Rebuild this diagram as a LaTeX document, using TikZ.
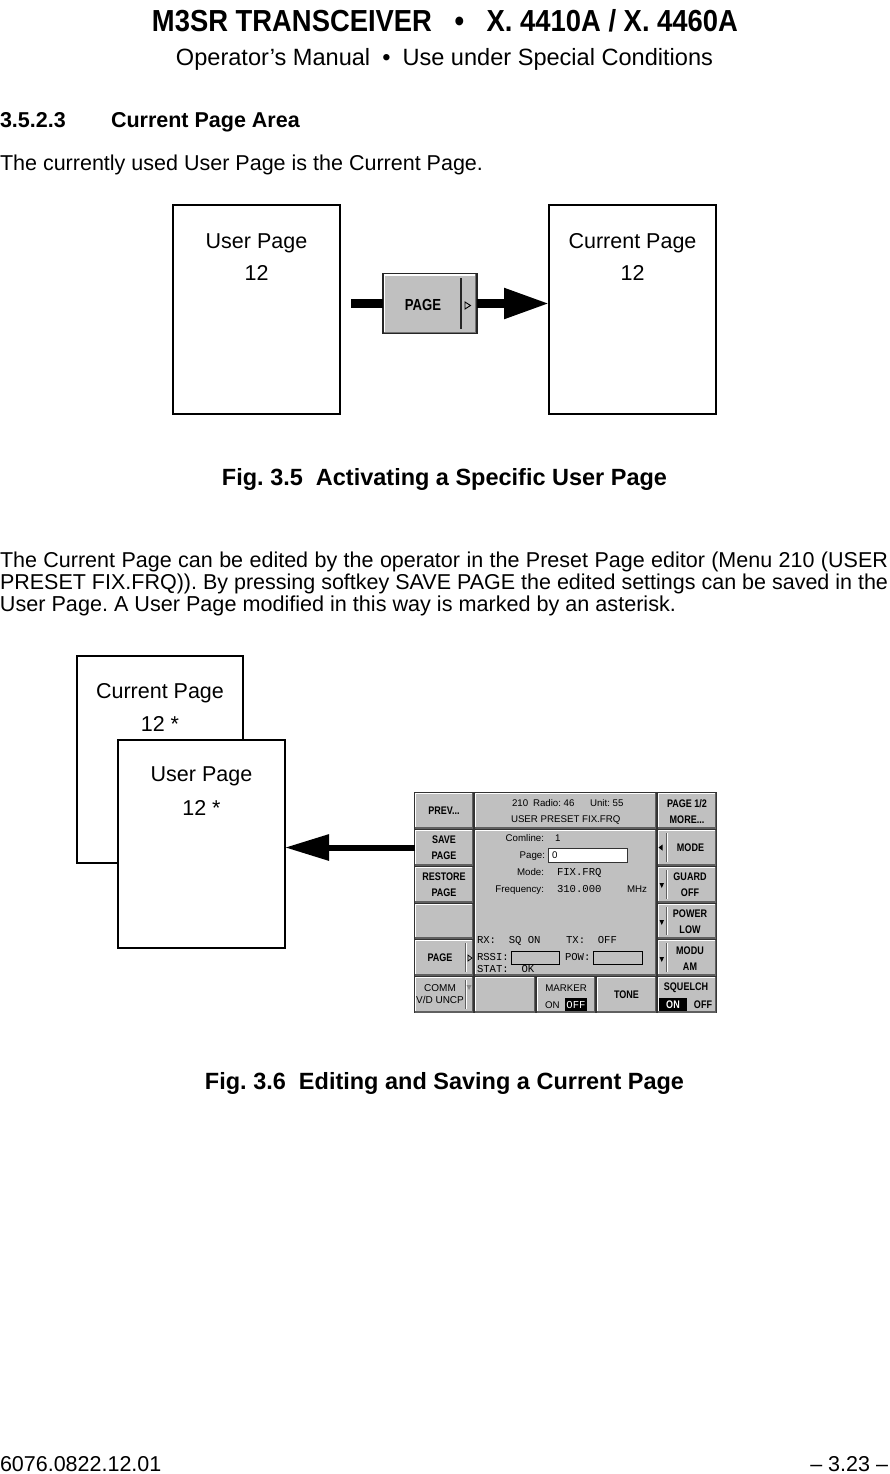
\documentclass[tikz,border=0pt]{standalone}
\usepackage{fontspec}
\setmainfont{Liberation Sans}
\newfontfamily\monof{Liberation Mono}
\newfontfamily\scrf[FakeStretch=0.82]{Liberation Sans}
\newfontfamily\titlef[FakeStretch=0.9]{Liberation Sans}
\usetikzlibrary{arrows.meta,calc}
\definecolor{btnface}{RGB}{192,192,192}
\definecolor{btndark}{RGB}{96,96,96}
\definecolor{scrbg}{RGB}{50,50,50}
\frenchspacing
\newcommand\bodyf{\fontsize{21.5pt}{26pt}\selectfont}
\newcommand\sboldf{\scrf\fontsize{11pt}{16pt}\selectfont\bfseries}
\newcommand\sregf{\fontsize{9.7pt}{12.5pt}\selectfont}
\newcommand\smonof{\monof\fontsize{10.6pt}{12pt}\selectfont}
\newcommand\sbutton[5]{\node[sbtn, minimum width={(#4)-(#2)}, minimum height={(#5)-(#3)}] (#1) at ({((#2)+(#4))/2},{((#3)+(#5))/2}) {};}
\begin{document}
\begin{tikzpicture}[x=1pt,y=-1pt,
  txt/.style={inner sep=0pt, outer sep=0pt, font=\bodyf},
  btxt/.style={inner sep=0pt, outer sep=0pt, font=\bodyf\bfseries},
  pagebox/.style={draw=black, line width=1.2pt, fill=white, inner sep=0pt, outer sep=0pt},
  sbtn/.style={fill=btnface, inner sep=0pt, outer sep=0pt,
    path picture={
      \draw[white,line width=2pt] (path picture bounding box.south west) -- (path picture bounding box.north west) -- (path picture bounding box.north east);
      \draw[btndark,line width=2pt] (path picture bounding box.north east) -- (path picture bounding box.south east) -- (path picture bounding box.south west);}},
  bigbtn/.style={fill=btnface, draw=black!85, line width=1.5pt, inner sep=0pt, outer sep=0pt,
    path picture={
      \draw[white,line width=4pt] (path picture bounding box.south west) -- (path picture bounding box.north west) -- (path picture bounding box.north east);
      \draw[black!55,line width=4pt] (path picture bounding box.north east) -- (path picture bounding box.south east) -- (path picture bounding box.south west);}},
  slab/.style={inner sep=0pt, outer sep=0pt, font=\sboldf, align=center},
  sreg/.style={inner sep=0pt, outer sep=0pt, font=\sregf},
  smono/.style={inner sep=0pt, outer sep=0pt, font=\smonof},
  fieldbox/.style={fill=white, draw=black!80, line width=0.8pt},
  sep/.style={draw=btndark, line width=1pt},
  sepw/.style={draw=white, line width=1pt},
  bigarrow/.style={line width=8.3pt, -{Triangle[length=45pt,width=29pt]}},
  medarrow/.style={line width=6pt, -{Triangle[length=44pt,width=25pt]}}
]
\useasboundingbox (0,0) rectangle (890,1474);
\fill[white] (0,0) rectangle (890,1474);

% header
\node[txt, anchor=base] (title) at (445,32) {\resizebox{586pt}{!}{\titlef\fontsize{27pt}{30pt}\selectfont\bfseries M3SR TRANSCEIVER\hspace{20pt}•\hspace{20pt}X. 4410A / X. 4460A}};
\node[txt, anchor=base] (subtitle) at (444.5,66) {\resizebox{537pt}{!}{\bodyf Operator’s Manual\hspace{11pt}•\hspace{11pt}Use under Special Conditions}};
\node[btxt, anchor=base west] (secnum) at (0,128) {3.5.2.3};
\node[btxt, anchor=base west] (sectitle) at (111,128) {Current Page Area};
\node[txt, anchor=base west] (line0) at (0,171) {\resizebox{483pt}{!}{\bodyf The currently used User Page is the Current Page.}};

% figure 3.5
\node[pagebox, minimum width=167pt, minimum height=209pt] (up1) at (256.5,309.5) {};
\node[pagebox, minimum width=167pt, minimum height=209pt] (cp1) at (632.5,309.5) {};
\node[txt, anchor=base] (up1a) at (256.5,248) {User Page};
\node[txt, anchor=base] (up1b) at (256.5,280) {12};
\node[txt, anchor=base] (cp1a) at (632.5,248) {Current Page};
\node[txt, anchor=base] (cp1b) at (632.5,280) {12};

\node[bigbtn, minimum width=94pt, minimum height=60pt] (pgbtn) at (430,303.5) {};
\node[inner sep=0pt, font=\scrf\fontsize{16pt}{18pt}\selectfont\bfseries] (pgbtntxt) at (423,304.5) {PAGE};
\draw[black!85, line width=1.3pt] (461,278) -- (461,329);
\draw[black, line width=0.9pt] (465,302) -- (470.5,305.5) -- (465,309) -- cycle;

\coordinate (a1s) at (351,303.5);
\draw[line width=8.3pt] (a1s) -- (pgbtn.west);
\draw[bigarrow] (pgbtn.east) -- (pgbtn.east -| cp1.west);

\node[btxt, anchor=base] (cap1) at (444.5,485) {\resizebox{445pt}{!}{\bodyf\bfseries Fig. 3.5\hspace{6pt} Activating a Specific User Page}};

% paragraph
\node[txt, anchor=base west] (p1) at (0,567) {\makebox[888pt][s]{The Current Page can be edited by the operator in the Preset Page editor (Menu 210 (USER}};
\node[txt, anchor=base west] (p2) at (0,589) {\makebox[888pt][s]{PRESET FIX.FRQ)). By pressing softkey SAVE PAGE the edited settings can be saved in the}};
\node[txt, anchor=base west] (p3) at (0,611) {\resizebox{676pt}{!}{\bodyf User Page. A User Page modified in this way is marked by an asterisk.}};

% figure 3.6 pages
\node[pagebox, minimum width=166pt, minimum height=207pt] (cp2) at (160,759.5) {};
\node[txt, anchor=base] (cp2a) at (160,698) {Current Page};
\node[txt, anchor=base] (cp2b) at (160,731.5) {12 *};
\node[pagebox, minimum width=167pt, minimum height=208pt] (up2) at (201.5,844) {};
\node[txt, anchor=base] (up2a) at (201.5,781.5) {User Page};
\node[txt, anchor=base] (up2b) at (201.5,815) {12 *};

% screen
\node[fill=scrbg, minimum width=303pt, minimum height=221pt, inner sep=0pt, outer sep=0pt] (screen) at (565.5,902.5) {};
\sbutton{prev}{415}{793}{473}{828}
\sbutton{save}{415}{830}{473}{865}
\sbutton{restore}{415}{867}{473}{902}
\sbutton{blankl}{415}{904}{473}{938}
\sbutton{pagek}{415}{940}{473}{975}
\sbutton{comm}{415}{977}{473}{1012}
\sbutton{hdr}{475}{793}{656}{828}
\sbutton{mainp}{475}{830}{656}{975}
\sbutton{blankb}{475}{977}{535}{1012}
\sbutton{marker}{537}{977}{595}{1012}
\sbutton{tone}{597}{977}{656}{1012}
\sbutton{pgmore}{658}{793}{716}{828}
\sbutton{mode}{658}{830}{716}{865}
\sbutton{guard}{658}{867}{716}{902}
\sbutton{power}{658}{904}{716}{938}
\sbutton{modu}{658}{940}{716}{975}
\sbutton{squelch}{658}{977}{716}{1012}

% separators
\foreach \ya/\yb in {943/972,980/1009}{
  \draw[sep] (465,\ya) -- (465,\yb);
  \draw[sepw] (466,\ya) -- (466,\yb);}
\foreach \ya/\yb in {833/862,870/899,907/935,943/972}{
  \draw[sep] (666,\ya) -- (666,\yb);
  \draw[sepw] (667,\ya) -- (667,\yb);}

% left labels
\node[slab] (prevt) at (444,810.5) {PREV...};
\node[slab] (savet) at (444,848) {SAVE\\PAGE};
\node[slab] (restt) at (444,885) {RESTORE\\PAGE};
\node[slab] (pagekt) at (440,957.5) {PAGE};
\draw[black, line width=0.7pt] (468,955) -- (472,958) -- (468,961) -- cycle;
\node[sreg, align=center, font=\fontsize{10pt}{12.5pt}\selectfont] (commt) at (440,994) {COMM\\V/D UNCP};
\fill[black!45] (466.5,985) -- (471.5,985) -- (469,990) -- cycle;

% header panel
\node[sreg, anchor=base west] (h1) at (512,806.5) {210};
\node[sreg, anchor=base west] (h2) at (533,806.5) {Radio: 46};
\node[sreg, anchor=base west] (h3) at (590,806.5) {Unit: 55};
\node[sreg, anchor=base west] (h4) at (511,822.5) {USER PRESET FIX.FRQ};

% main panel
\node[sreg, anchor=base east] (l1) at (544,841.5) {Comline:};
\node[sreg, anchor=base west] (v1) at (555,841.5) {1};
\node[sreg, anchor=base east] (l2) at (545,858.5) {Page:};
\draw[fieldbox] (548,848) rectangle (627,862);
\node[sreg, anchor=base west] (v2) at (552,858.5) {0};
\node[sreg, anchor=base east] (l3) at (544,875.5) {Mode:};
\node[smono, anchor=base west] (v3) at (557,875.5) {FIX.FRQ};
\node[sreg, anchor=base east] (l4) at (544,892.5) {Frequency:};
\node[smono, anchor=base west] (v4) at (557,892.5) {310.000};
\node[sreg, anchor=base west] (v4u) at (627,892.5) {MHz};
\node[smono, anchor=base west] (rx) at (477,943.5) {RX:\ \ SQ ON\ \ \ \ TX:\ \ OFF};
\node[smono, anchor=base west] (rssi) at (477,960.5) {RSSI:};
\draw[fieldbox, fill=none, draw=black] (511,951) rectangle (559,964);
\node[smono, anchor=base west] (pow) at (565,960.5) {POW:};
\draw[fieldbox, fill=none, draw=black] (593,951) rectangle (642,964);
\node[smono, anchor=base west] (stat) at (477,972.5) {STAT:\ \ OK};

% bottom row
\node[sreg] (markt) at (566,988) {MARKER};
\node[sreg, anchor=base west] (markon) at (545,1008) {ON};
\fill[black] (565,998) rectangle (587,1011);
\node[smono, text=white] (markoff) at (576,1004.5) {OFF};
\node[slab] (tonet) at (626.5,995) {TONE};

% right labels
\node[slab] (pgmoret) at (687,812) {PAGE 1/2\\MORE...};
\fill[black] (658.5,847.5) -- (662.5,844.5) -- (662.5,850.5) -- cycle;
\node[slab] (modet) at (690.5,847.5) {MODE};
\fill[black] (659.5,883) -- (664,883) -- (661.75,888) -- cycle;
\node[slab] (guardt) at (690,885) {GUARD\\OFF};
\fill[black] (659.5,920) -- (664,920) -- (661.75,925) -- cycle;
\node[slab] (powert) at (690,922) {POWER\\LOW};
\fill[black] (659.5,957) -- (664,957) -- (661.75,962) -- cycle;
\node[slab] (modut) at (690,959) {MODU\\AM};
\node[slab] (squt) at (686,988) {SQUELCH};
\fill[black] (659,998) rectangle (687,1011);
\node[slab, text=white] (squon) at (673,1004.5) {ON};
\node[slab] (squoff) at (703,1004.5) {OFF};

% arrow screen -> user page
\draw[medarrow] (save.west) -- (save.west -| up2.east);

\node[btxt, anchor=base] (cap2) at (444.5,1089) {\resizebox{479pt}{!}{\bodyf\bfseries Fig. 3.6\hspace{6pt} Editing and Saving a Current Page}};

% footer
\node[txt, anchor=base west] (foot1) at (0,1471) {6076.0822.12.01};
\node[txt, anchor=base east] (foot2) at (888,1471) {– 3.23 –};
\end{tikzpicture}
\end{document}
